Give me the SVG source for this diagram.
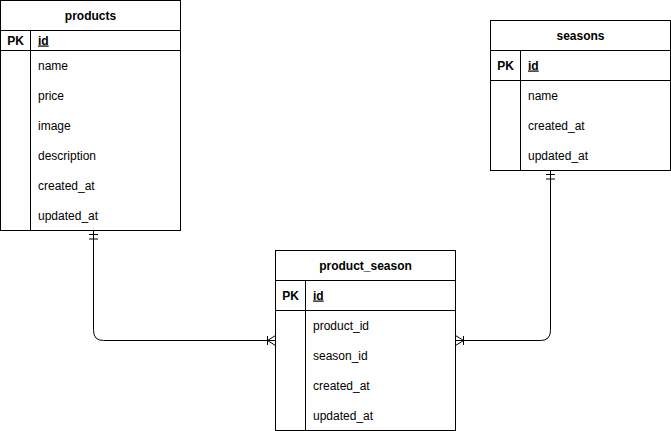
<svg xmlns="http://www.w3.org/2000/svg" width="671" height="431" viewBox="0 0 671 431">
<style>
.box{fill:#fff;stroke:#000;stroke-width:1}
.ln{stroke:#000;stroke-width:1;fill:none}
text{font-family:"Liberation Sans",Arial,Helvetica,sans-serif;font-size:12px;fill:#000}
.h{font-weight:bold;text-anchor:middle}
.pk{font-weight:bold;text-anchor:middle}
.id{font-weight:bold;text-decoration:underline}
.edge{stroke:#000;stroke-width:1;fill:none}
</style>
<defs>
<marker id="mandOne" markerUnits="userSpaceOnUse" viewBox="-12 -6 13 12" refX="0" refY="0" markerWidth="13" markerHeight="12" orient="auto-start-reverse" overflow="visible">
<path d="M-4,-4.5V4.5M-8.5,-4.5V4.5" stroke="#000" stroke-width="1" fill="none"/>
</marker>
<marker id="many" markerUnits="userSpaceOnUse" viewBox="-12 -6 13 12" refX="0" refY="0" markerWidth="13" markerHeight="12" orient="auto" overflow="visible">
<path d="M-8,-4.5V4.5M0,-5L-8,0L0,5" stroke="#000" stroke-width="1" fill="none"/>
</marker>
</defs>
<rect width="671" height="431" fill="#fff"/>
<g id="connectors">
<path class="edge" d="M93.5,230.5V330.5Q93.5,340.5 103.5,340.5H275.5" marker-start="url(#mandOne)" marker-end="url(#many)"/>
<path class="edge" d="M550.5,170.5V330.5Q550.5,340.5 540.5,340.5H455.5" marker-start="url(#mandOne)" marker-end="url(#many)"/>
</g>
<g id="products">
<rect class="box" x="0.5" y="0.5" width="180" height="230"/>
<path class="ln" d="M0.5,30.5H180.5M0.5,50.5H180.5M30.5,30.5V230.5"/>
<text class="h" x="90.5" y="19.5">products</text>
<text class="pk" x="15.5" y="44.5">PK</text>
<text class="id" x="38" y="44.5">id</text>
<text x="38" y="69.5">name</text>
<text x="38" y="99.5">price</text>
<text x="38" y="129.5">image</text>
<text x="38" y="159.5">description</text>
<text x="38" y="189.5">created_at</text>
<text x="38" y="219.5">updated_at</text>
</g>
<g id="seasons">
<rect class="box" x="490.5" y="20.5" width="180" height="150"/>
<path class="ln" d="M490.5,50.5H670.5M490.5,80.5H670.5M520.5,50.5V170.5"/>
<text class="h" x="580.5" y="39.5">seasons</text>
<text class="pk" x="505.5" y="69.5">PK</text>
<text class="id" x="528" y="69.5">id</text>
<text x="528" y="99.5">name</text>
<text x="528" y="129.5">created_at</text>
<text x="528" y="159.5">updated_at</text>
</g>
<g id="product_season">
<rect class="box" x="275.5" y="250.5" width="180" height="180"/>
<path class="ln" d="M275.5,280.5H455.5M275.5,310.5H455.5M305.5,280.5V430.5"/>
<text class="h" x="365.5" y="269.5">product_season</text>
<text class="pk" x="290.5" y="299.5">PK</text>
<text class="id" x="313" y="299.5">id</text>
<text x="313" y="329.5">product_id</text>
<text x="313" y="359.5">season_id</text>
<text x="313" y="389.5">created_at</text>
<text x="313" y="419.5">updated_at</text>
</g>
</svg>
